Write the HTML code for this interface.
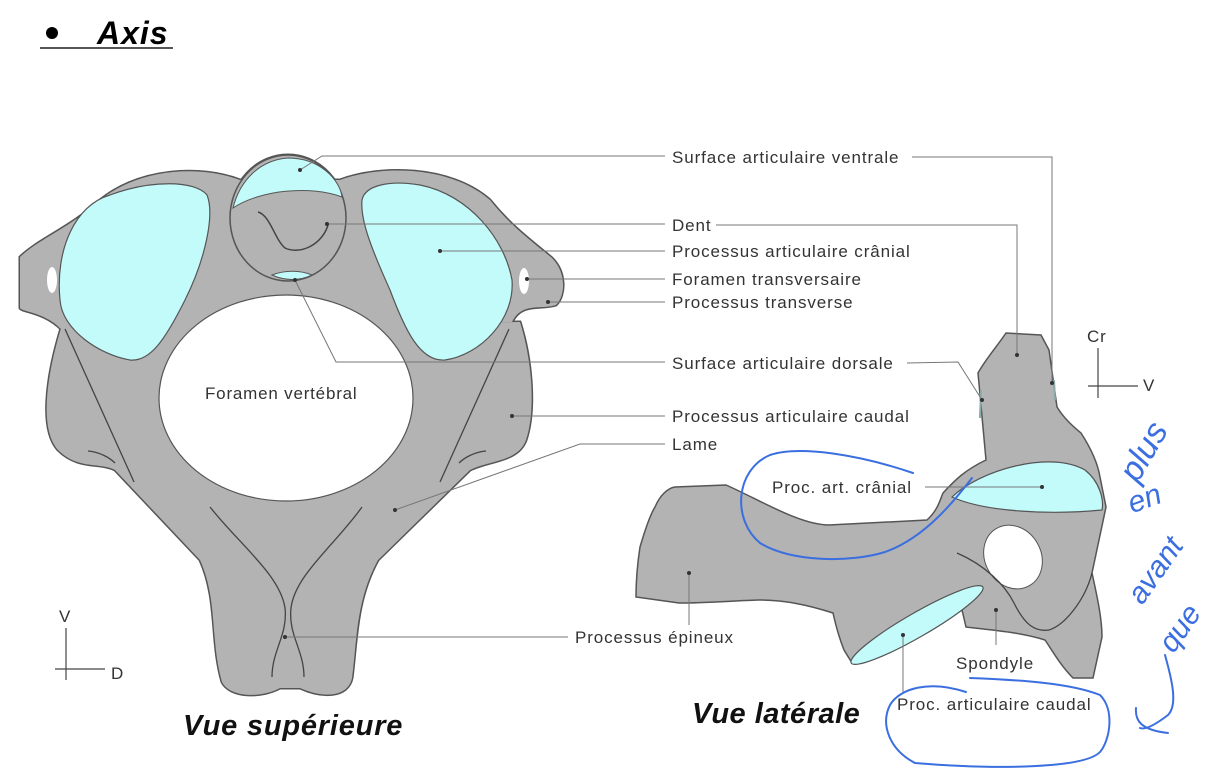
<!DOCTYPE html>
<html><head><meta charset="utf-8"><style>
html,body{margin:0;padding:0;background:#fff;width:1230px;height:769px;overflow:hidden}
svg{display:block}
text{font-family:"Liberation Sans",sans-serif}
</style></head><body>
<svg width="1230" height="769" viewBox="0 0 1230 769" xmlns="http://www.w3.org/2000/svg">
<!-- header -->
<circle cx="52" cy="33" r="6" fill="#000"/>
<text x="97" y="44" font-size="32" font-weight="bold" font-style="italic" fill="#000" letter-spacing="1">Axis</text>
<line x1="40" y1="48" x2="173" y2="48" stroke="#555" stroke-width="2"/>

<!-- superior view: stroked underlay -->
<g fill="#b3b3b3" stroke="#555" stroke-width="3">
<path d="M20,257 C40,238 70,228 100,200 C140,168 200,165 240,180 L340,180 C380,165 450,165 490,200 C510,225 530,240 552,258 C566,272 566,295 556,305 C540,310 522,302 512,322 L62,330 C45,312 22,312 20,308 Z"/>
<path d="M62,325 C45,380 40,430 58,450 C78,470 100,462 115,470 L200,560 C218,600 210,640 222,682 C230,698 262,698 280,688 L300,688 C322,698 348,698 352,678 C357,640 356,600 378,560 L470,470 C490,460 518,462 526,440 C536,410 532,360 520,322 Z"/>
<ellipse cx="288" cy="218" rx="58" ry="63"/>
</g>
<g fill="#b3b3b3">
<path d="M20,257 C40,238 70,228 100,200 C140,168 200,165 240,180 L340,180 C380,165 450,165 490,200 C510,225 530,240 552,258 C566,272 566,295 556,305 C540,310 522,302 512,322 L62,330 C45,312 22,312 20,308 Z"/>
<path d="M62,325 C45,380 40,430 58,450 C78,470 100,462 115,470 L200,560 C218,600 210,640 222,682 C230,698 262,698 280,688 L300,688 C322,698 348,698 352,678 C357,640 356,600 378,560 L470,470 C490,460 518,462 526,440 C536,410 532,360 520,322 Z"/>
</g>
<ellipse cx="288" cy="218" rx="58" ry="63" fill="#b3b3b3" stroke="#555" stroke-width="1.5"/>
<path d="M233,208 C240,180 260,160 288,158 C320,158 340,180 342,197 C310,185 260,190 233,208 Z" fill="#c3fbfb" stroke="#555" stroke-width="1"/>
<path d="M272,275 C285,270 300,270 312,275 C300,281 285,281 272,275 Z" fill="#c3fbfb" stroke="#555" stroke-width="1"/>
<path d="M258,212 C270,215 275,240 285,248 C300,255 322,245 328,225" fill="none" stroke="#444" stroke-width="1.5"/>
<path d="M60,300 C55,250 75,205 110,195 C150,180 195,180 207,195 C215,215 205,260 185,300 C165,340 150,362 130,360 C100,355 62,330 60,300 Z" fill="#c3fbfb" stroke="#555" stroke-width="1.2"/>
<path d="M362,200 C365,185 390,180 420,185 C470,195 505,240 512,280 C515,320 480,355 445,360 C420,362 405,330 390,290 C372,250 360,220 362,200 Z" fill="#c3fbfb" stroke="#555" stroke-width="1.2"/>
<ellipse cx="286" cy="398" rx="127" ry="103" fill="#fff" stroke="#555" stroke-width="1.2"/>
<ellipse cx="52" cy="280" rx="5" ry="13" fill="#fff"/>
<ellipse cx="524" cy="281" rx="5" ry="13" fill="#fff"/>
<g fill="none" stroke="#444" stroke-width="1.3">
<path d="M65,329 L134,482"/><path d="M509,329 L440,482"/>
<path d="M88,451 C100,452 110,458 115,463"/><path d="M486,451 C474,452 464,458 459,463"/>
<path d="M210,507 C240,545 280,575 285,608 C288,635 272,650 272,677"/>
<path d="M362,507 C335,545 295,575 291,608 C288,635 304,650 304,677"/>
</g>
<text x="205" y="399" font-size="17" letter-spacing="0.8" fill="#333">Foramen vertébral</text>

<!-- lateral view -->
<path d="M655,507 C660,495 668,488 675,487 L726,485 C760,500 800,525 829,525 L927,520 C938,510 940,500 943,493 C955,480 965,470 986,460 L978,373 C985,360 998,345 1006,333 L1041,335 L1049,350 L1057,407 C1065,420 1075,428 1081,433 C1092,450 1098,465 1100,477 L1106,507 L1092,573 C1098,600 1102,620 1102,637 L1093,678 L1073,678 C1060,665 1052,650 1045,640 C1020,632 990,630 966,627 L962,610 C930,630 890,650 852,663 L844,650 C838,635 835,622 833,613 C808,605 785,600 758,600 C730,601 705,603 679,603 L636,597 C636,580 638,560 640,547 C645,530 650,515 655,507 Z" fill="#b3b3b3" stroke="#555" stroke-width="1.5"/>
<path d="M952,497 C980,470 1050,450 1085,470 C1100,482 1104,500 1102,510 C1050,515 985,512 952,497 Z" fill="#c3fbfb" stroke="#555" stroke-width="1.2"/>
<ellipse cx="917" cy="625" rx="76" ry="12" transform="rotate(-30 917 625)" fill="#c3fbfb" stroke="#555" stroke-width="1.2"/>
<ellipse cx="1013" cy="557" rx="28" ry="33" transform="rotate(-30 1013 557)" fill="#fff" stroke="#555" stroke-width="1"/>
<path d="M957,553 C985,565 1005,585 1014,603 C1025,625 1035,632 1049,630 C1065,625 1085,600 1092,573" fill="none" stroke="#444" stroke-width="1.3"/>
<path d="M981,390 L980,418" stroke="#8aa" stroke-width="2"/>
<path d="M1054,380 L1055,400" stroke="#8aa" stroke-width="2"/>

<!-- connector lines -->
<g fill="none" stroke="#777" stroke-width="1">
<path d="M300,170 L322,156 L665,156"/><path d="M912,157 L1052,157 L1052,383"/>
<path d="M327,224 L665,224"/><path d="M716,225 L1017,225 L1017,355"/>
<path d="M440,251 L665,251"/>
<path d="M527,279 L665,279"/>
<path d="M548,302 L665,302"/>
<path d="M295,280 L336,362 L665,362"/><path d="M907,363 L958,362 L982,400"/>
<path d="M512,416 L665,416"/>
<path d="M395,510 L580,444 L665,444"/>
<path d="M285,637 L568,637"/>
<path d="M925,487 L1042,487"/>
<path d="M996,610 L996,645"/>
<path d="M903,635 L903,692"/>
<path d="M689,573 L689,625"/>
</g>
<g fill="#333">
<circle cx="300" cy="170" r="2"/><circle cx="327" cy="224" r="2"/><circle cx="440" cy="251" r="2"/>
<circle cx="527" cy="279" r="2"/><circle cx="548" cy="302" r="2"/><circle cx="295" cy="280" r="2"/>
<circle cx="512" cy="416" r="2"/><circle cx="395" cy="510" r="2"/><circle cx="285" cy="637" r="2"/>
<circle cx="1042" cy="487" r="2"/><circle cx="996" cy="610" r="2"/><circle cx="903" cy="635" r="2"/>
<circle cx="689" cy="573" r="2"/><circle cx="1017" cy="355" r="2"/><circle cx="1052" cy="383" r="2"/><circle cx="982" cy="400" r="2"/>
</g>
<g font-size="17" fill="#333" letter-spacing="0.9">
<text x="672" y="163">Surface articulaire ventrale</text>
<text x="672" y="231">Dent</text>
<text x="672" y="257">Processus articulaire crânial</text>
<text x="672" y="285">Foramen transversaire</text>
<text x="672" y="308">Processus transverse</text>
<text x="672" y="369">Surface articulaire dorsale</text>
<text x="672" y="422">Processus articulaire caudal</text>
<text x="672" y="450">Lame</text>
<text x="575" y="643">Processus épineux</text>
<text x="772" y="493">Proc. art. crânial</text>
<text x="956" y="669">Spondyle</text>
<text x="897" y="710">Proc. articulaire caudal</text>
<text x="1087" y="342">Cr</text>
<text x="1143" y="391">V</text>
<text x="59" y="622">V</text>
<text x="111" y="679">D</text>
</g>
<g stroke="#444" stroke-width="1.2">
<line x1="1098" y1="348" x2="1098" y2="398"/><line x1="1088" y1="386" x2="1138" y2="386"/>
<line x1="66" y1="628" x2="66" y2="680"/><line x1="55" y1="669" x2="105" y2="669"/>
</g>
<text x="183" y="735" font-size="29" font-weight="bold" font-style="italic" fill="#111" letter-spacing="0.8">Vue supérieure</text>
<text x="692" y="723" font-size="29" font-weight="bold" font-style="italic" fill="#111" letter-spacing="0.5">Vue latérale</text>

<!-- handwriting -->
<g fill="none" stroke="#3b6fe0" stroke-width="2" stroke-linecap="round">
<path d="M913,473 C860,455 800,445 770,455 C735,470 732,520 760,543 C790,562 850,563 885,552 C925,538 955,500 972,478"/>
<path d="M970,678 C1020,680 1070,683 1100,695 C1115,710 1110,740 1100,752 C1085,768 1000,770 915,763 C890,750 880,725 890,705 C900,688 930,680 966,692"/>
<path d="M1165,655 C1172,680 1178,705 1168,715 C1155,725 1145,730 1140,728 M1136,708 C1135,720 1140,730 1168,733"/>
</g>
<g fill="#3b6fe0" font-family="'DejaVu Serif',serif" font-style="italic">
<text x="1118" y="470" font-size="34" transform="rotate(-60 1140 460)">plus</text>
<text x="1128" y="510" font-size="30" transform="rotate(-20 1140 500)">en</text>
<text x="1108" y="580" font-size="30" transform="rotate(-55 1150 560)">avant</text>
<text x="1140" y="630" font-size="30" transform="rotate(-55 1180 610)">que</text>
</g>
</svg>
</body></html>
